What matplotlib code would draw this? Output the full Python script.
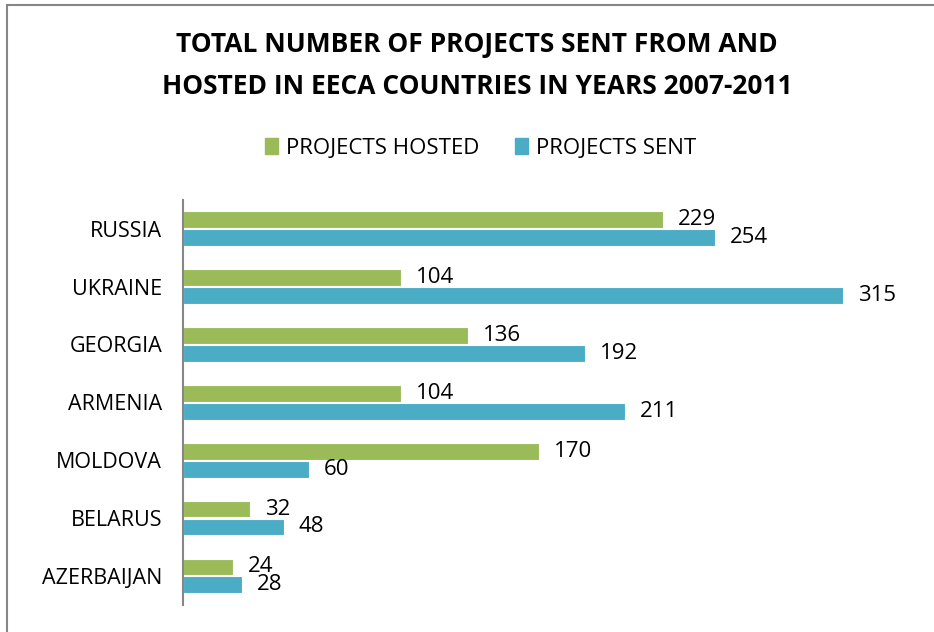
import matplotlib.pyplot as plt
import matplotlib.patches as mpatches
import numpy as np

plt.rcParams['font.family'] = ['Open Sans', 'DejaVu Sans']

# Data
countries = ['RUSSIA', 'UKRAINE', 'GEORGIA', 'ARMENIA', 'MOLDOVA', 'BELARUS', 'AZERBAIJAN']
hosted = [229, 104, 136, 104, 170, 32, 24]
sent = [254, 315, 192, 211, 60, 48, 28]

color_hosted = '#9BBB59'
color_sent = '#4BACC6'

fig = plt.figure(figsize=(9.34, 6.32), dpi=100)
ax = fig.add_axes([0.196, 0.043, 0.785, 0.641])

y = np.arange(len(countries))
h = 0.29
off = 0.155
ax.barh(y - off, hosted, h, color=color_hosted, edgecolor='white', linewidth=0.8)
ax.barh(y + off, sent, h, color=color_sent, edgecolor='white', linewidth=0.8)

for yi, v in zip(y, hosted):
    ax.text(v + 7, yi - off, str(v), va='center', ha='left', fontsize=16)
for yi, v in zip(y, sent):
    ax.text(v + 7, yi + off, str(v), va='center', ha='left', fontsize=16)

ax.set_xlim(0, 350)
ax.set_ylim(len(countries) - 0.5, -0.5)
ax.set_yticks(y)
ax.set_yticklabels(countries, fontsize=15.5)
ax.tick_params(axis='y', length=0, pad=15)
ax.set_xticks([])
for s in ['top', 'right', 'bottom']:
    ax.spines[s].set_visible(False)
ax.spines['left'].set_color('#868686')
ax.spines['left'].set_linewidth(1.5)

fig.text(477 / 934, 1 - 45 / 632, 'TOTAL NUMBER OF PROJECTS SENT FROM AND', ha='center', va='center',
         fontsize=19, fontweight='bold')
fig.text(477 / 934, 1 - 87 / 632, 'HOSTED IN EECA COUNTRIES IN YEARS 2007-2011', ha='center', va='center',
         fontsize=19, fontweight='bold')

handles = [mpatches.Patch(color=color_hosted, label='PROJECTS HOSTED'),
           mpatches.Patch(color=color_sent, label='PROJECTS SENT')]
fig.legend(handles=handles, loc='center', bbox_to_anchor=(481 / 934, 1 - 148 / 632), ncol=2,
           frameon=False, fontsize=16, handlelength=0.55, handleheight=0.7,
           handletextpad=0.4, columnspacing=1.6)

# chart border
border = mpatches.Rectangle((7 / 934, -0.1), 1.2, 1 - 5 / 632 + 0.1, transform=fig.transFigure,
                            fill=False, edgecolor='#868686', linewidth=1.5)
fig.patches.append(border)

plt.savefig('out.png', dpi=100)
